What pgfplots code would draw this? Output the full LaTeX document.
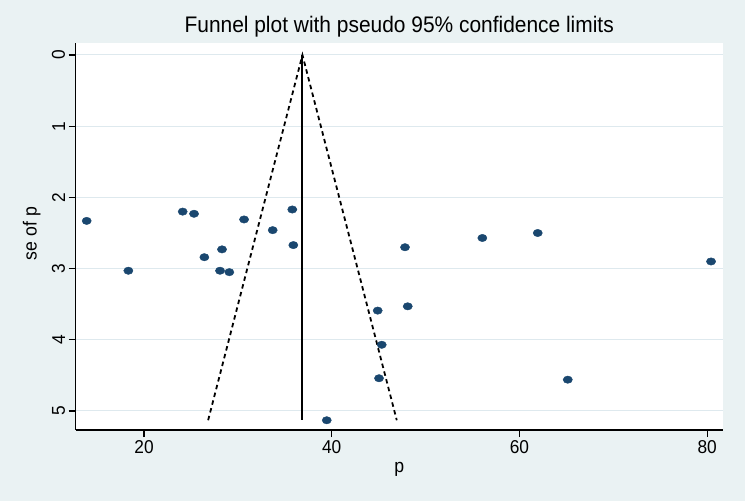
\documentclass[border=0pt]{standalone}
\usepackage{fontspec}
\setmainfont[FakeStretch=0.93]{Liberation Sans}
\usepackage{pgfplots}
\pgfplotsset{compat=1.18}
\usetikzlibrary{backgrounds}
\definecolor{bgc}{RGB}{234,242,243}
\definecolor{navy}{RGB}{26,71,111}
\definecolor{gridc}{RGB}{222,233,238}
\pgfplotstableread{
x se
13.89 2.33
18.33 3.03
24.12 2.20
25.33 2.23
26.43 2.84
28.10 3.03
28.31 2.73
29.09 3.05
30.66 2.31
33.71 2.46
35.80 2.17
35.91 2.67
39.47 5.13
44.90 3.59
45.04 4.54
45.33 4.07
47.81 2.70
48.10 3.53
56.05 2.57
61.95 2.50
65.15 4.56
80.42 2.90
}\studies
\begin{document}
\begin{tikzpicture}
\begin{axis}[
  scale only axis, width=647pt, height=387pt,
  xmin=12.72, xmax=81.66,
  ymin=-0.1685, ymax=5.267, y dir=reverse,
  axis x line*=bottom, axis y line*=left,
  axis line style={-, black, line width=1.3pt},
  axis background/.style={fill=white},
  xtick={20,40,60,80}, ytick={0,1,2,3,4,5},
  tick align=outside, major tick length=7pt,
  tick style={black, line width=1.2pt},
  ymajorgrids, grid style={gridc, line width=1pt},
  /pgf/number format/assume math mode=true,
  ticklabel style={font=\fontsize{18.6}{22}\selectfont},
  yticklabel style={rotate=90, anchor=south},
  title={Funnel plot with pseudo 95\% confidence limits},
  title style={font=\fontsize{22.5}{24}\selectfont, at={(axis description cs:0.5,1.0121)}, anchor=base, inner sep=0pt},
  xlabel={p},
  xlabel style={font=\fontsize{19}{22}\selectfont, at={(axis description cs:0.5,-0.111)}, anchor=base, inner sep=0pt},
  ylabel={se of p},
  ylabel style={font=\fontsize{19}{22}\selectfont, at={(axis description cs:-0.0603,0.5078)}, anchor=base, inner sep=0pt},
  clip=false,
]
\coordinate (bl) at (axis description cs:0,0);
\addplot[black, line width=1.8pt, dash pattern=on 4.5pt off 3.5pt] coordinates {(26.83,5.13) (36.88,0) (46.93,5.13)};
\addplot[black, line width=2pt] coordinates {(36.88,0) (36.88,5.13)};
\addplot[only marks, mark=*, mark size=3.7pt, mark options={fill=navy, draw=navy, xscale=1.25}] table[x=x, y=se] {\studies};
\end{axis}
\begin{scope}[on background layer]
\fill[bgc] ([shift={(-75.7pt,-71pt)}]bl) rectangle ([shift={(669.3pt,430pt)}]bl);
\end{scope}
\end{tikzpicture}
\end{document}
